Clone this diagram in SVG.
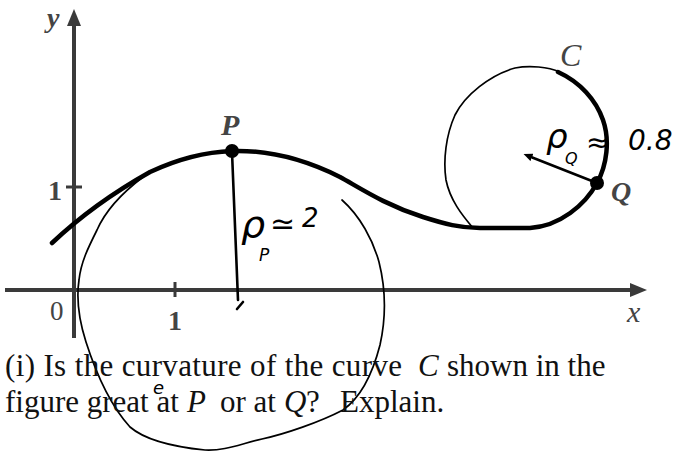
<svg xmlns="http://www.w3.org/2000/svg" width="677" height="456" viewBox="0 0 677 456">
<style>
.axis{stroke:#3a3a3a;stroke-width:4;fill:none}
.tick{stroke:#3a3a3a;stroke-width:3}
.curve{stroke:#000;stroke-width:4.5;fill:none;stroke-linecap:round;stroke-linejoin:round}
.thin{stroke:#000;stroke-width:1.7;fill:none;stroke-linecap:round}
.hand{stroke:#000;stroke-width:2.6;fill:none;stroke-linecap:round}
.lbl{font-family:"Liberation Serif",serif;fill:#444}
.txt{font-family:"Liberation Serif",serif;font-size:31px;fill:#111}
.hw{font-family:"DejaVu Sans",sans-serif;fill:#000;font-style:oblique}
</style>
<defs>
<marker id="axarrow" markerUnits="userSpaceOnUse" markerWidth="20" markerHeight="16" refX="2" refY="7" orient="auto">
<path d="M0,0 L17,7 L0,14 z" fill="#3a3a3a"/>
</marker>
<marker id="harrow" markerUnits="userSpaceOnUse" markerWidth="12" markerHeight="10" refX="1" refY="4" orient="auto">
<path d="M0,0 L9,4 L0,8 z" fill="#000"/>
</marker>
</defs>
<rect width="677" height="456" fill="#fff"/>
<g id="axes">
<line class="axis" x1="74" y1="338" x2="74" y2="24" marker-end="url(#axarrow)"/>
<line class="axis" x1="5" y1="290" x2="632" y2="290" marker-end="url(#axarrow)"/>
<line class="tick" x1="175" y1="282" x2="175" y2="297"/>
<line class="tick" x1="66" y1="187" x2="82" y2="187"/>
<text class="lbl" x="47" y="27" font-size="28" font-style="italic" font-weight="bold">y</text>
<text class="lbl" x="627" y="322" font-size="30" font-style="italic">x</text>
<text class="lbl" x="50" y="320" font-size="27">0</text>
<text class="lbl" x="175" y="330" font-size="28" font-weight="bold" text-anchor="middle">1</text>
<text class="lbl" x="55" y="200" font-size="28" font-weight="bold" text-anchor="middle">1</text>
</g>
<g id="osculating-circles">
<path class="thin" d="M143,177 C118,196 104,214 97,230 C88,248 81,262 79,280 C76,300 79,320 86,342 C95,370 110,405 130,427 C145,440 175,447 205,450 C225,451 240,444 262,439 C285,434 320,422 343,410 C360,398 372,376 380,345 C386,318 386,290 379,262 C373,240 360,216 342,200"/>
<path class="thin" d="M560,72 C548,67 530,65 515,68 C490,75 465,95 455,115 C446,135 443,160 446,180 C450,200 462,215 473,228"/>
</g>
<g id="curve-C">
<path class="curve" d="M52,243 C70,226 100,200 150,172 C180,158 205,152 232,151 C265,150 300,157 340,177 C360,188 385,205 423,217 C445,224 460,228 480,228 L530,228 C560,226 585,205 597,183 C607,165 610,140 603,120 C596,100 580,82 558,72"/>
<text class="lbl" x="560" y="66" font-size="32" font-style="italic">C</text>
</g>
<g id="connectors">
<path class="hand" d="M232,152 L238,300"/>
<path class="hand" d="M237,309 L243,302"/>
<line class="hand" x1="597" y1="183" x2="531" y2="157" marker-end="url(#harrow)"/>
</g>
<g id="node-P">
<circle cx="232" cy="151" r="7" fill="#000"/>
<text class="lbl" x="221" y="135" font-size="30" font-style="italic" font-weight="bold" fill="#222">P</text>
</g>
<g id="node-Q">
<circle cx="597" cy="183" r="7" fill="#000"/>
<text class="lbl" x="611" y="201" font-size="28" font-style="italic" font-weight="bold">Q</text>
</g>
<g id="handwriting">
<text class="hw" x="241" y="237" font-size="38">ρ</text>
<text class="hw" x="259" y="261" font-size="17">P</text>
<text class="hw" x="270" y="234" font-size="30">≃</text>
<text class="hw" x="302" y="227" font-size="26">2</text>
<text class="hw" x="546" y="148" font-size="34">ρ</text>
<text class="hw" x="565" y="164" font-size="16">Q</text>
<text class="hw" x="586" y="152" font-size="28">≈</text>
<text class="hw" x="628" y="150" font-size="28">0.8</text>
<text class="hw" x="153" y="394" font-size="18">e</text>
</g>
<g id="question">
<text class="txt" x="5" y="376" textLength="397" lengthAdjust="spacing">(i) Is the curvature of the curve</text>
<text class="txt" x="418" y="376" font-style="italic">C</text>
<text class="txt" x="447" y="376">shown in the</text>
<text class="txt" x="5" y="412">figure great at</text>
<text class="txt" x="187" y="412" font-style="italic">P</text>
<text class="txt" x="220" y="412">or at</text>
<text class="txt" x="284" y="412" font-style="italic">Q</text>
<text class="txt" x="306" y="412">?</text>
<text class="txt" x="340" y="412">Explain.</text>
</g>
</svg>
